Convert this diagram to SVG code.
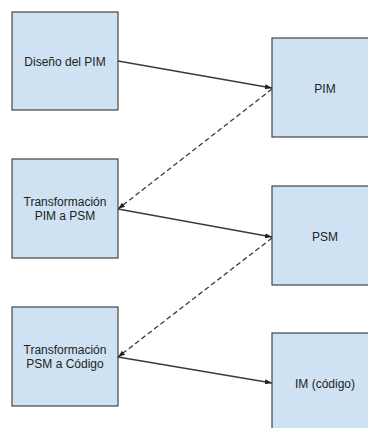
<svg xmlns="http://www.w3.org/2000/svg" width="368" height="428" viewBox="0 0 368 428">
  <style>
    .box { fill: #cfe2f3; stroke: #444444; stroke-width: 1.2; }
    .lbl { font-family: "Liberation Sans", Arial, sans-serif; font-size: 12px; fill: #222222; text-anchor: middle; }
    .link { stroke: #3a3a3a; stroke-width: 1.3; fill: none; marker-end: url(#head); }
    .dash { stroke-dasharray: 5 3; }
  </style>
  <defs>
    <marker id="head" markerUnits="userSpaceOnUse" markerWidth="8" markerHeight="8" refX="7" refY="4" orient="auto">
      <path d="M0,1.5 L7,4 L0,6.5 Z" fill="#222222"/>
    </marker>
  </defs>
  <rect width="368" height="428" fill="#ffffff"/>

  <g id="diseno-pim">
    <rect class="box" x="12" y="12" width="106" height="98"/>
    <text class="lbl" x="65" y="66">Diseño del PIM</text>
  </g>
  <g id="pim">
    <rect class="box" x="272" y="38" width="106" height="99"/>
    <text class="lbl" x="325" y="93">PIM</text>
  </g>
  <g id="trans-pim-psm">
    <rect class="box" x="12" y="159" width="106" height="99"/>
    <text class="lbl" x="65" y="206">Transformación</text>
    <text class="lbl" x="65" y="220">PIM a PSM</text>
  </g>
  <g id="psm">
    <rect class="box" x="272" y="186" width="106" height="99"/>
    <text class="lbl" x="325" y="241">PSM</text>
  </g>
  <g id="trans-psm-codigo">
    <rect class="box" x="12" y="307" width="106" height="99"/>
    <text class="lbl" x="65" y="354">Transformación</text>
    <text class="lbl" x="65" y="368">PSM a Código</text>
  </g>
  <g id="im-codigo">
    <rect class="box" x="272" y="333" width="106" height="110"/>
    <text class="lbl" x="325" y="388">IM (código)</text>
  </g>

  <g id="connectors">
    <line class="link" x1="118" y1="61" x2="272" y2="88"/>
    <line class="link dash" x1="272" y1="89" x2="118" y2="209"/>
    <line class="link" x1="118" y1="209" x2="272" y2="237"/>
    <line class="link dash" x1="272" y1="238" x2="118" y2="357"/>
    <line class="link" x1="118" y1="357" x2="272" y2="383"/>
  </g>
</svg>
